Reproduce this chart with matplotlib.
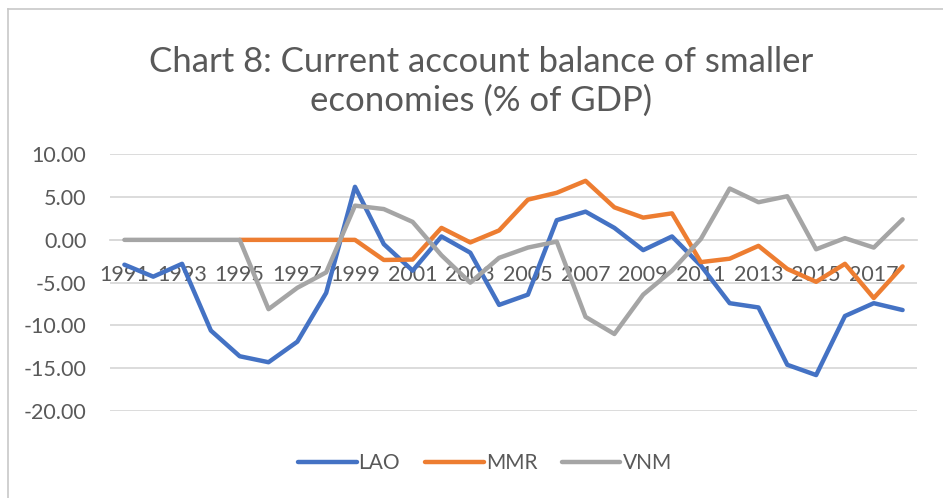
import matplotlib
matplotlib.use("Agg")
import numpy as np
import matplotlib.pyplot as plt
from matplotlib.lines import Line2D

# data (% of GDP)
years = list(range(1991, 2019))
lao = [-2.9, -4.3, -2.8, -10.6, -13.6, -14.3, -11.9, -6.2, 6.2, -0.5,
       -3.6, 0.4, -1.5, -7.6, -6.4, 2.3, 3.3, 1.4, -1.2, 0.4,
       -3.0, -7.4, -7.9, -14.6, -15.8, -8.9, -7.4, -8.2]
mmr = [np.nan, np.nan, np.nan, np.nan, 0.0, 0.0, 0.0, 0.0, 0.0, -2.35,
       -2.3, 1.4, -0.3, 1.1, 4.7, 5.5, 6.9, 3.8, 2.6, 3.1,
       -2.6, -2.2, -0.7, -3.4, -4.9, -2.8, -6.8, -3.1]
vnm = [0.0, 0.0, 0.0, 0.0, 0.0, -8.1, -5.6, -3.8, 4.0, 3.6,
       2.1, -1.8, -5.0, -2.1, -0.9, -0.2, -9.0, -11.0, -6.4, -3.6,
       0.1, 6.0, 4.4, 5.1, -1.1, 0.2, -0.9, 2.4]
series_names = ['LAO', 'MMR', 'VNM']
series_colors = ['#4472C4', '#ED7D31', '#A5A5A5']
yticks = [10, 5, 0, -5, -10, -15, -20]
xtick_years = years[::2]

title = 'Chart 8: Current account balance of smaller\neconomies (% of GDP)'
txt_color = '#595959'

plt.rcParams['font.family'] = ['Lato', 'DejaVu Sans']

fig = plt.figure(figsize=(9.43, 4.98), dpi=100)
W, H = 943.0, 498.0
ax = fig.add_axes([110 / W, 1 - 411 / H, (917 - 110) / W, (411 - 154.3) / H])

for vals, name, col in zip([lao, mmr, vnm], series_names, series_colors):
    ax.plot(years, vals, color=col, lw=3.2, label=name,
            solid_capstyle='round', solid_joinstyle='round', zorder=3)

ax.set_xlim(years[0] - 0.5, years[-1] + 0.5)
ax.set_ylim(-20, 10)
ax.set_yticks(yticks)
ax.set_yticklabels(['%.2f' % v for v in yticks])
ax.yaxis.grid(True, color='#D9D9D9', lw=1.3)
ax.set_axisbelow(True)

for s in ['left', 'right', 'top']:
    ax.spines[s].set_visible(False)
ax.spines['bottom'].set_position(('data', 0))
ax.spines['bottom'].set_color('#D9D9D9')
ax.spines['bottom'].set_linewidth(1.3)
ax.spines['bottom'].set_zorder(1)

ax.set_xticks(xtick_years)
ax.set_xticklabels([str(y) for y in xtick_years])
ax.tick_params(axis='x', length=0, pad=18, labelsize=15.5, labelcolor=txt_color)
ax.tick_params(axis='y', length=0, pad=17, labelsize=15.5, labelcolor=txt_color)
for lab in ax.get_xticklabels():
    lab.set_zorder(2)

fig.text(481 / W, 1 - 81 / H, title, ha='center', va='center',
         fontsize=25, color=txt_color, linespacing=1.25)

leg = fig.legend(loc='center', bbox_to_anchor=(485 / W, 1 - 463 / H), ncol=3,
                 frameon=False, fontsize=15, handlelength=2.8,
                 handletextpad=0.1, columnspacing=1.2)
for t in leg.get_texts():
    t.set_color(txt_color)

# chart frame (top and left edges visible in the screenshot)
fig.add_artist(Line2D([8 / W, 1], [1 - 9 / H, 1 - 9 / H], color='#C8C8C8', lw=1.2))
fig.add_artist(Line2D([8 / W, 8 / W], [0, 1 - 9 / H], color='#C8C8C8', lw=1.2))

fig.savefig('out.png', dpi=100)
